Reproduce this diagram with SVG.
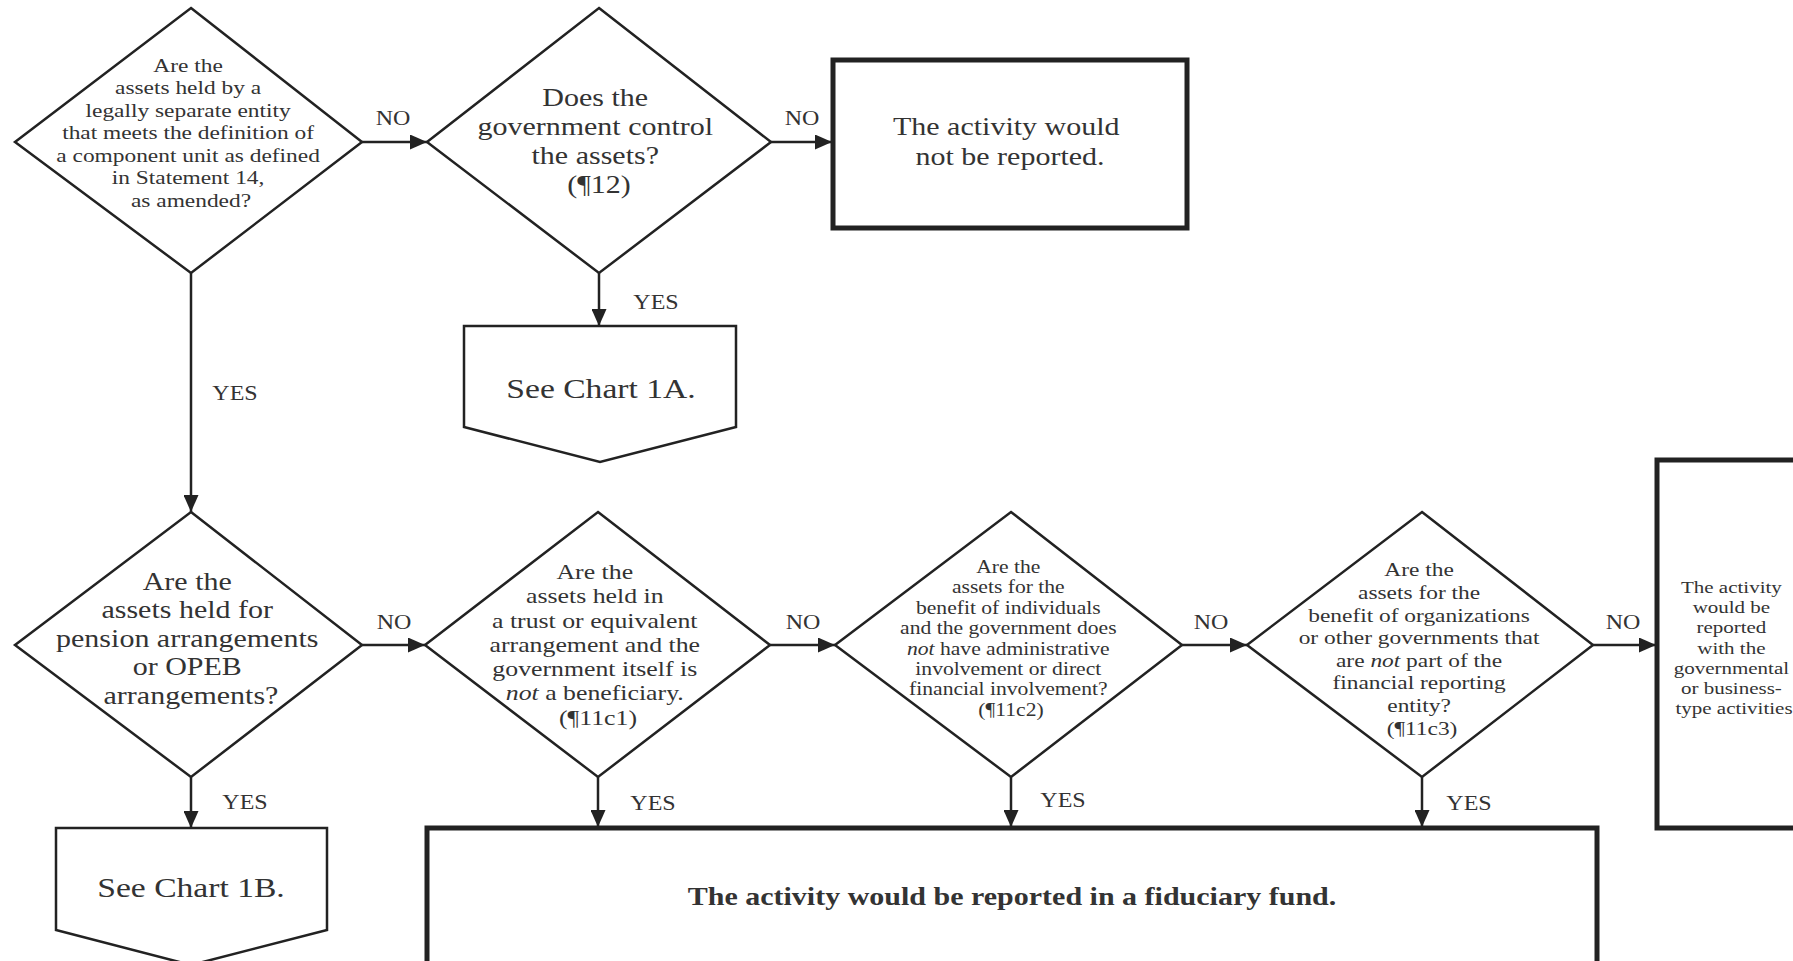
<svg xmlns="http://www.w3.org/2000/svg" width="1793" height="961" viewBox="0 0 1793 961">
<style>
.shape{fill:#fff;stroke:#222;stroke-width:2.5;stroke-linejoin:miter}
.box{fill:#fff;stroke:#222;stroke-width:5}
.conn{stroke:#222;stroke-width:2.5;fill:none}
text{font-family:"Liberation Serif","Times New Roman",serif;fill:#333;text-anchor:middle}
.lbl{font-size:20px}
.it{font-style:italic}
</style>
<defs>
<marker id="ah" markerUnits="userSpaceOnUse" markerWidth="17" markerHeight="15" refX="17" refY="7.5" orient="auto">
<path d="M0,0 L17,7.5 L0,15 z" fill="#222"/>
</marker>
</defs>
<rect width="1793" height="961" fill="#fff"/>

<g id="connectors">
<line class="conn" x1="362" y1="142" x2="427" y2="142" marker-end="url(#ah)"/>
<line class="conn" x1="771" y1="142" x2="832" y2="142" marker-end="url(#ah)"/>
<line class="conn" x1="599" y1="273" x2="599" y2="326" marker-end="url(#ah)"/>
<line class="conn" x1="191" y1="273" x2="191" y2="512" marker-end="url(#ah)"/>
<line class="conn" x1="191" y1="777" x2="191" y2="828" marker-end="url(#ah)"/>
<line class="conn" x1="362" y1="645" x2="425" y2="645" marker-end="url(#ah)"/>
<line class="conn" x1="770" y1="645" x2="835" y2="645" marker-end="url(#ah)"/>
<line class="conn" x1="1182" y1="645" x2="1247" y2="645" marker-end="url(#ah)"/>
<line class="conn" x1="1593" y1="645" x2="1656" y2="645" marker-end="url(#ah)"/>
<line class="conn" x1="598" y1="777" x2="598" y2="827" marker-end="url(#ah)"/>
<line class="conn" x1="1011" y1="777" x2="1011" y2="827" marker-end="url(#ah)"/>
<line class="conn" x1="1422" y1="777" x2="1422" y2="827" marker-end="url(#ah)"/>
<g class="lbl">
<text class="lbl" transform="matrix(1.2 0 0 1 393 0)" x="0" y="125">NO</text>
<text class="lbl" transform="matrix(1.2 0 0 1 802 0)" x="0" y="125">NO</text>
<text class="lbl" transform="matrix(1.2 0 0 1 235 0)" x="0" y="400">YES</text>
<text class="lbl" transform="matrix(1.2 0 0 1 656 0)" x="0" y="309">YES</text>
<text class="lbl" transform="matrix(1.2 0 0 1 394 0)" x="0" y="629">NO</text>
<text class="lbl" transform="matrix(1.2 0 0 1 245 0)" x="0" y="809">YES</text>
<text class="lbl" transform="matrix(1.2 0 0 1 803 0)" x="0" y="629">NO</text>
<text class="lbl" transform="matrix(1.2 0 0 1 653 0)" x="0" y="810">YES</text>
<text class="lbl" transform="matrix(1.2 0 0 1 1211 0)" x="0" y="629">NO</text>
<text class="lbl" transform="matrix(1.2 0 0 1 1063 0)" x="0" y="807">YES</text>
<text class="lbl" transform="matrix(1.2 0 0 1 1623 0)" x="0" y="629">NO</text>
<text class="lbl" transform="matrix(1.2 0 0 1 1469 0)" x="0" y="810">YES</text>
</g>
</g>

<g id="q-component-unit">
<polygon class="shape" points="191,8 362,142 191,273 15,142"/>
<text font-size="19.5" transform="matrix(1.2 0 0 1 191 0)">
<tspan x="0" y="72">Are the</tspan>
<tspan x="0" y="94.5">assets held by a</tspan>
<tspan x="0" y="117">legally separate entity</tspan>
<tspan x="0" y="139.5">that meets the definition of</tspan>
<tspan x="0" y="162">a component unit as defined</tspan>
<tspan x="0" y="184.5">in Statement 14,</tspan>
<tspan x="0" y="207">as amended?</tspan>
</text>
</g>

<g id="q-control">
<polygon class="shape" points="599,8 771,142 599,273 427,142"/>
<text font-size="25" transform="matrix(1.2 0 0 1 599 0)">
<tspan x="0" y="106">Does the</tspan>
<tspan x="0" y="135">government control</tspan>
<tspan x="0" y="164">the assets?</tspan>
<tspan x="0" y="193">(¶12)</tspan>
</text>
</g>

<g id="not-reported">
<rect class="box" x="833" y="60" width="354" height="168"/>
<text font-size="25" transform="matrix(1.2 0 0 1 1010 0)">
<tspan x="0" y="135">The activity would</tspan>
<tspan x="0" y="165">not be reported.</tspan>
</text>
</g>

<g id="chart-1a">
<polygon class="shape" points="464,326 736,326 736,427 600,462 464,427"/>
<text font-size="28" transform="matrix(1.2 0 0 1 601 0)"><tspan x="0" y="398">See Chart 1A.</tspan></text>
</g>

<g id="q-pension">
<polygon class="shape" points="191,512 362,645 191,777 15,645"/>
<text font-size="25" transform="matrix(1.2 0 0 1 191 0)">
<tspan x="0" y="590">Are the</tspan>
<tspan x="0" y="618.5">assets held for</tspan>
<tspan x="0" y="647">pension arrangements</tspan>
<tspan x="0" y="675.5">or OPEB</tspan>
<tspan x="0" y="704">arrangements?</tspan>
</text>
</g>

<g id="chart-1b">
<polygon class="shape" points="56,828 327,828 327,930 191,965 56,930"/>
<text font-size="28" transform="matrix(1.2 0 0 1 191 0)"><tspan x="0" y="897">See Chart 1B.</tspan></text>
</g>

<g id="q-trust">
<polygon class="shape" points="598,512 770,645 598,777 425,645"/>
<text font-size="21.5" transform="matrix(1.2 0 0 1 598 0)">
<tspan x="0" y="579">Are the</tspan>
<tspan x="0" y="603.3">assets held in</tspan>
<tspan x="0" y="627.6">a trust or equivalent</tspan>
<tspan x="0" y="651.9">arrangement and the</tspan>
<tspan x="0" y="676.2">government itself is</tspan>
<tspan x="0" y="700.5"><tspan class="it">not</tspan> a beneficiary.</tspan>
<tspan x="0" y="724.8">(¶11c1)</tspan>
</text>
</g>

<g id="q-individuals">
<polygon class="shape" points="1011,512 1182,645 1011,777 835,645"/>
<text font-size="18" transform="matrix(1.2 0 0 1 1011 0)">
<tspan x="0" y="573">Are the</tspan>
<tspan x="0" y="593.4">assets for the</tspan>
<tspan x="0" y="613.8">benefit of individuals</tspan>
<tspan x="0" y="634.2">and the government does</tspan>
<tspan x="0" y="654.6"><tspan class="it">not</tspan> have administrative</tspan>
<tspan x="0" y="675">involvement or direct</tspan>
<tspan x="0" y="695.4">financial involvement?</tspan>
<tspan x="0" y="715.8">(¶11c2)</tspan>
</text>
</g>

<g id="q-organizations">
<polygon class="shape" points="1422,512 1593,645 1422,777 1247,645"/>
<text font-size="19.5" transform="matrix(1.2 0 0 1 1422 0)">
<tspan x="0" y="576.5">Are the</tspan>
<tspan x="0" y="599.1">assets for the</tspan>
<tspan x="0" y="621.7">benefit of organizations</tspan>
<tspan x="0" y="644.3">or other governments that</tspan>
<tspan x="0" y="666.9">are <tspan class="it">not</tspan> part of the</tspan>
<tspan x="0" y="689.5">financial reporting</tspan>
<tspan x="0" y="712.1">entity?</tspan>
<tspan x="0" y="734.7">(¶11c3)</tspan>
</text>
</g>

<g id="governmental-activities">
<rect class="box" x="1657" y="460" width="160" height="368"/>
<text font-size="17.5" transform="matrix(1.2 0 0 1 1734 0)">
<tspan x="0" y="593">The activity</tspan>
<tspan x="0" y="613.2">would be</tspan>
<tspan x="0" y="633.4">reported</tspan>
<tspan x="0" y="653.6">with the</tspan>
<tspan x="0" y="673.8">governmental</tspan>
<tspan x="0" y="694">or business-</tspan>
<tspan x="0" y="714.2">type activities</tspan>
</text>
</g>

<g id="fiduciary-fund">
<rect class="box" x="427" y="828" width="1170" height="160"/>
<text font-size="25" font-weight="bold" transform="matrix(1.2 0 0 1 1012 0)"><tspan x="0" y="905">The activity would be reported in a fiduciary fund.</tspan></text>
</g>
</svg>
